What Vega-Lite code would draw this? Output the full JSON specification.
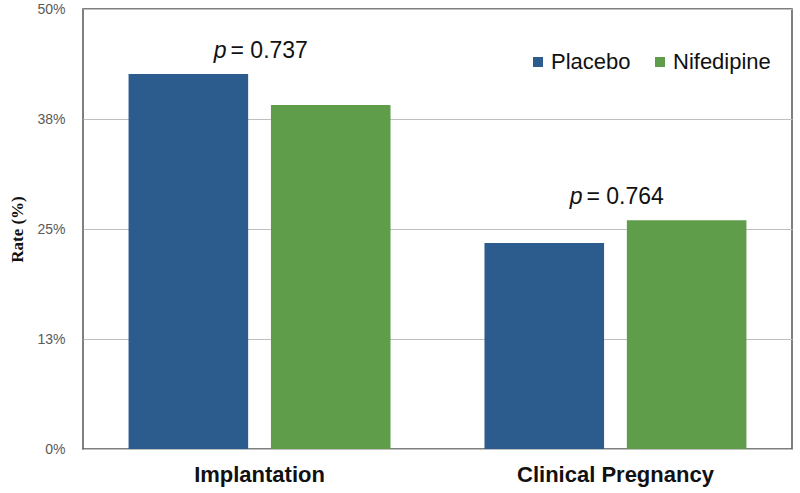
{
  "$schema": "https://vega.github.io/schema/vega-lite/v6.json",
  "autosize": {"type": "none"},
  "padding": {"left": 83, "top": 9, "right": 8, "bottom": 44},
  "width": 709,
  "height": 440,
  "background": "white",
  "config": {
    "view": {"stroke": "#555555", "strokeWidth": 1.5},
    "font": "Liberation Sans"
  },
  "datasets": {
    "rates": [
      {"category": "Implantation", "group": "Placebo", "rate": 0.426},
      {"category": "Implantation", "group": "Nifedipine", "rate": 0.391},
      {"category": "Clinical Pregnancy", "group": "Placebo", "rate": 0.234},
      {"category": "Clinical Pregnancy", "group": "Nifedipine", "rate": 0.260}
    ],
    "pvalues": [
      {"category": "Implantation", "p": "p", "value": "= 0.737", "top": 0.426},
      {"category": "Clinical Pregnancy", "p": "p", "value": "= 0.764", "top": 0.260}
    ]
  },
  "layer": [
    {
      "data": {"name": "rates"},
      "mark": {"type": "bar"},
      "encoding": {
        "x": {
          "field": "category", "type": "nominal",
          "sort": ["Implantation", "Clinical Pregnancy"],
          "scale": {"paddingInner": 0.264, "paddingOuter": 0.128},
          "axis": {
            "title": null, "labelAngle": 0, "domain": false, "ticks": false,
            "labelFontSize": 22, "labelFontWeight": "bold", "labelColor": "#111111",
            "labelPadding": 15, "labelLimit": 0
          }
        },
        "xOffset": {
          "field": "group", "type": "nominal",
          "sort": ["Placebo", "Nifedipine"],
          "scale": {"paddingInner": 0.16, "paddingOuter": 0}
        },
        "y": {
          "field": "rate", "type": "quantitative",
          "scale": {"domain": [0, 0.5]},
          "axis": {
            "title": "Rate (%)",
            "titleFont": "Liberation Serif", "titleFontSize": 17, "titleFontWeight": "bold",
            "titleColor": "#111111", "titlePadding": 10,
            "values": [0, 0.125, 0.25, 0.375, 0.5],
            "format": ".0%",
            "labelFontSize": 14, "labelColor": "#595959", "labelPadding": 18,
            "domain": false, "ticks": false,
            "grid": true, "gridColor": "#bfbfbf", "gridWidth": 1.2
          }
        },
        "color": {
          "field": "group", "type": "nominal",
          "scale": {"domain": ["Placebo", "Nifedipine"], "range": ["#2c5b8e", "#5f9d4b"]},
          "legend": {
            "title": null, "orient": "none", "direction": "horizontal",
            "legendX": 444, "legendY": 42,
            "symbolType": "square", "symbolSize": 100, "symbolStrokeWidth": 0,
            "labelFontSize": 22, "labelColor": "#111111", "labelOffset": 2,
            "columnPadding": 18, "padding": 0
          }
        }
      }
    },
    {
      "data": {"name": "pvalues"},
      "mark": {"type": "text", "fontSize": 23, "fontStyle": "italic", "align": "right", "baseline": "alphabetic", "dx": -33, "dy": -16, "color": "#111111"},
      "encoding": {
        "x": {"field": "category", "type": "nominal", "sort": ["Implantation", "Clinical Pregnancy"]},
        "y": {"field": "top", "type": "quantitative"},
        "text": {"field": "p"}
      }
    },
    {
      "data": {"name": "pvalues"},
      "mark": {"type": "text", "fontSize": 23, "align": "left", "baseline": "alphabetic", "dx": -29, "dy": -16, "color": "#111111"},
      "encoding": {
        "x": {"field": "category", "type": "nominal", "sort": ["Implantation", "Clinical Pregnancy"]},
        "y": {"field": "top", "type": "quantitative"},
        "text": {"field": "value"}
      }
    }
  ]
}
